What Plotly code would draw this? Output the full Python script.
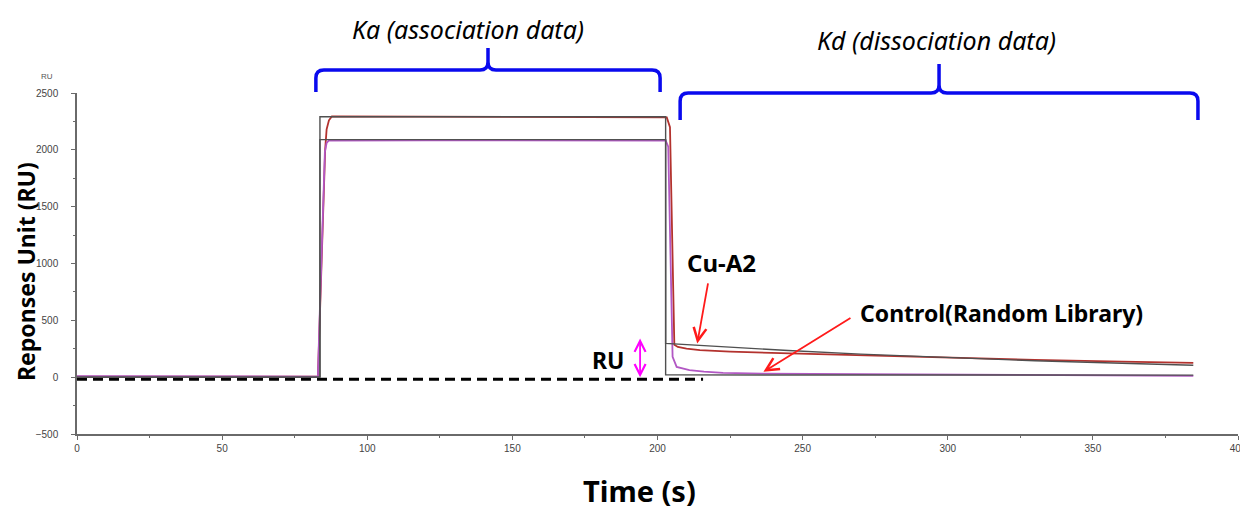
import plotly.graph_objects as go

# ---------------- data ----------------
# Cu-A2 measured response (RU) vs time (s)
cu_time = [0, 83.0, 83.5, 84.2, 84.9, 85.5, 86.0, 86.8, 87.8, 120, 160, 200, 203.2, 204.3, 204.9,
           205.8, 207, 210, 214.6, 225, 245.6, 270, 300, 330, 360, 384.6]
cu_resp = [4, 4, 400, 1000, 1650, 2000, 2180, 2260, 2294, 2292, 2290, 2287, 2285, 2200, 1350,
           285, 266, 252, 238, 225, 209, 191, 171, 153, 137, 125]

# Control (Random Library) measured response
ctrl_time = [0, 83.0, 83.5, 84.2, 84.9, 85.4, 86.0, 86.8, 120, 160, 202.8, 203.7, 204.3, 205.2,
             206.6, 209, 211, 216, 222.6, 236, 260, 300, 340, 384.6]
ctrl_resp = [8, 5, 450, 1100, 1750, 1980, 2060, 2082, 2084, 2083, 2082, 2027, 1355, 180,
             90, 72, 62, 48, 38, 32, 28, 25, 20, 12]

# Fitted curves (black)
cu_fit_time = [0, 83.7, 83.7, 202.8, 202.8, 220, 245, 270, 300, 330, 360, 384.6]
cu_fit_resp = [0, 0, 2291, 2291, 297, 270, 234, 203, 171, 144, 122, 105]
ctrl_fit_time = [0, 83.7, 83.7, 202.8, 202.8, 384.6]
ctrl_fit_resp = [0, 0, 2090, 2090, 20, 18]

# dashed baseline reference
baseline_time = [0, 215.7]
baseline_resp = [-18, -18]

x_ticks = [0, 50, 100, 150, 200, 250, 300, 350, 400]
y_ticks = [-500, 0, 500, 1000, 1500, 2000, 2500]

# phase spans marked with braces (s)
ka_span = [82.3, 141.6, 200.9]
kd_span = [207.8, 297.0, 386.2]

X_MAX = 400
FONT = "Noto Sans"

fig = go.Figure()
fig.add_trace(go.Scatter(x=baseline_time, y=baseline_resp, mode="lines",
                         line=dict(color="black", width=3, dash="10px,6px"),
                         hoverinfo="skip", showlegend=False))
fig.add_trace(go.Scatter(x=cu_time, y=cu_resp, mode="lines",
                         line=dict(color="#b3322e", width=1.8),
                         hoverinfo="skip", showlegend=False))
fig.add_trace(go.Scatter(x=ctrl_time, y=ctrl_resp, mode="lines",
                         line=dict(color="#b258c4", width=1.8),
                         hoverinfo="skip", showlegend=False))
fig.add_trace(go.Scatter(x=cu_fit_time, y=cu_fit_resp, mode="lines",
                         line=dict(color="#505050", width=1.4),
                         hoverinfo="skip", showlegend=False))
fig.add_trace(go.Scatter(x=ctrl_fit_time, y=ctrl_fit_resp, mode="lines",
                         line=dict(color="#505050", width=1.4),
                         hoverinfo="skip", showlegend=False))

axis_common = dict(showline=True, linecolor="#6a6a6a", linewidth=1.5, ticks="outside",
                   ticklen=4, tickcolor="#6a6a6a", showgrid=False, zeroline=False,
                   tickfont=dict(family="Liberation Sans", size=10, color="#444444"),
                   automargin=False, mirror=False)

# the page body has an 8px margin, so the figure is sized to fit the window
fig.update_layout(
    template="none",
    width=1240, height=501,
    margin=dict(l=69, r=10, t=85, b=75),
    plot_bgcolor="white", paper_bgcolor="white",
    font=dict(family=FONT),
    xaxis=dict(range=[0, X_MAX], tickvals=x_ticks, **axis_common,
               minor=dict(ticks="outside", ticklen=2, dtick=25, tickcolor="#6a6a6a", showgrid=False)),
    yaxis=dict(range=[-500, 2500], tickvals=y_ticks, ticklabelstandoff=11, **axis_common,
               minor=dict(ticks="outside", ticklen=2, dtick=250, tickcolor="#6a6a6a", showgrid=False)),
    showlegend=False,
)

# ---------------- braces ----------------
def brace_path(span, y_base, y_bar, y_tip):
    x0, xm, x1 = [v / X_MAX for v in span]
    rx = 8 / 1161
    ry = 8 / 341
    return (f"M{x0},{y_base} L{x0},{y_bar - ry} Q{x0},{y_bar} {x0 + rx},{y_bar} "
            f"L{xm - rx},{y_bar} Q{xm},{y_bar} {xm},{y_bar + ry} L{xm},{y_tip} "
            f"L{xm},{y_bar + ry} Q{xm},{y_bar} {xm + rx},{y_bar} "
            f"L{x1 - rx},{y_bar} Q{x1},{y_bar} {x1},{y_bar - ry} L{x1},{y_base}")

def py(p):
    return (434 - p) / 341

def px(p):
    return (p - 77) / 1161

for span, yb, yh, yt in [(ka_span, py(92), py(70), py(48)), (kd_span, py(120), py(93), py(64))]:
    fig.add_shape(type="path", xref="paper", yref="paper", path=brace_path(span, yb, yh, yt),
                  line=dict(color="#0a0aee", width=3.5))

C = dict(xanchor="center", yanchor="middle", showarrow=False)
ann = []
ann.append(dict(xref="paper", yref="paper", x=px(468), y=py(29),
                text="<i>Ka (association data)</i>",
                font=dict(family=FONT, size=25, color="black"), **C))
ann.append(dict(xref="paper", yref="paper", x=px(936), y=py(40),
                text="<i>Kd (dissociation data)</i>",
                font=dict(family=FONT, size=25, color="black"), **C))
ann.append(dict(xref="paper", yref="paper", x=px(47), y=py(76), text="RU",
                font=dict(family="Liberation Sans", size=8, color="#555555"), **C))
ann.append(dict(xref="paper", yref="paper", x=px(26), y=py(272), textangle=-90,
                text="<b>Reponses Unit (RU)</b>",
                font=dict(family=FONT, size=23, color="black"), **C))
ann.append(dict(xref="paper", yref="paper", x=px(639), y=py(490),
                text="<b>Time (s)</b>",
                font=dict(family=FONT, size=29, color="black"), **C))
# labels in data space
ann.append(dict(x=222, y=1008, text="<b>Cu-A2</b>",
                font=dict(family=FONT, size=24, color="black"), **C))
ann.append(dict(x=318.4, y=563, text="<b>Control(Random Library)</b>",
                font=dict(family=FONT, size=23, color="black"), **C))
ann.append(dict(x=183, y=150, text="<b>RU</b>",
                font=dict(family=FONT, size=23, color="black"), **C))
# arrows
ann.append(dict(x=213.7, y=297, ax=217.5, ay=839, axref="x", ayref="y", text="",
                showarrow=True, arrowhead=5, arrowsize=1.4, arrowwidth=1.8, arrowcolor="#ff1a1a"))
ann.append(dict(x=236.5, y=47, ax=267, ay=528, axref="x", ayref="y", text="",
                showarrow=True, arrowhead=5, arrowsize=1.4, arrowwidth=1.8, arrowcolor="#ff1a1a"))
ann.append(dict(x=194, y=340, ax=194, ay=-15, axref="x", ayref="y", text="",
                showarrow=True, arrowside="end+start", arrowhead=5, startarrowhead=5,
                arrowsize=1.2, startarrowsize=1.2, arrowwidth=1.8, arrowcolor="#ff00ff"))
fig.update_layout(annotations=ann)

fig.write_html("out.html")
